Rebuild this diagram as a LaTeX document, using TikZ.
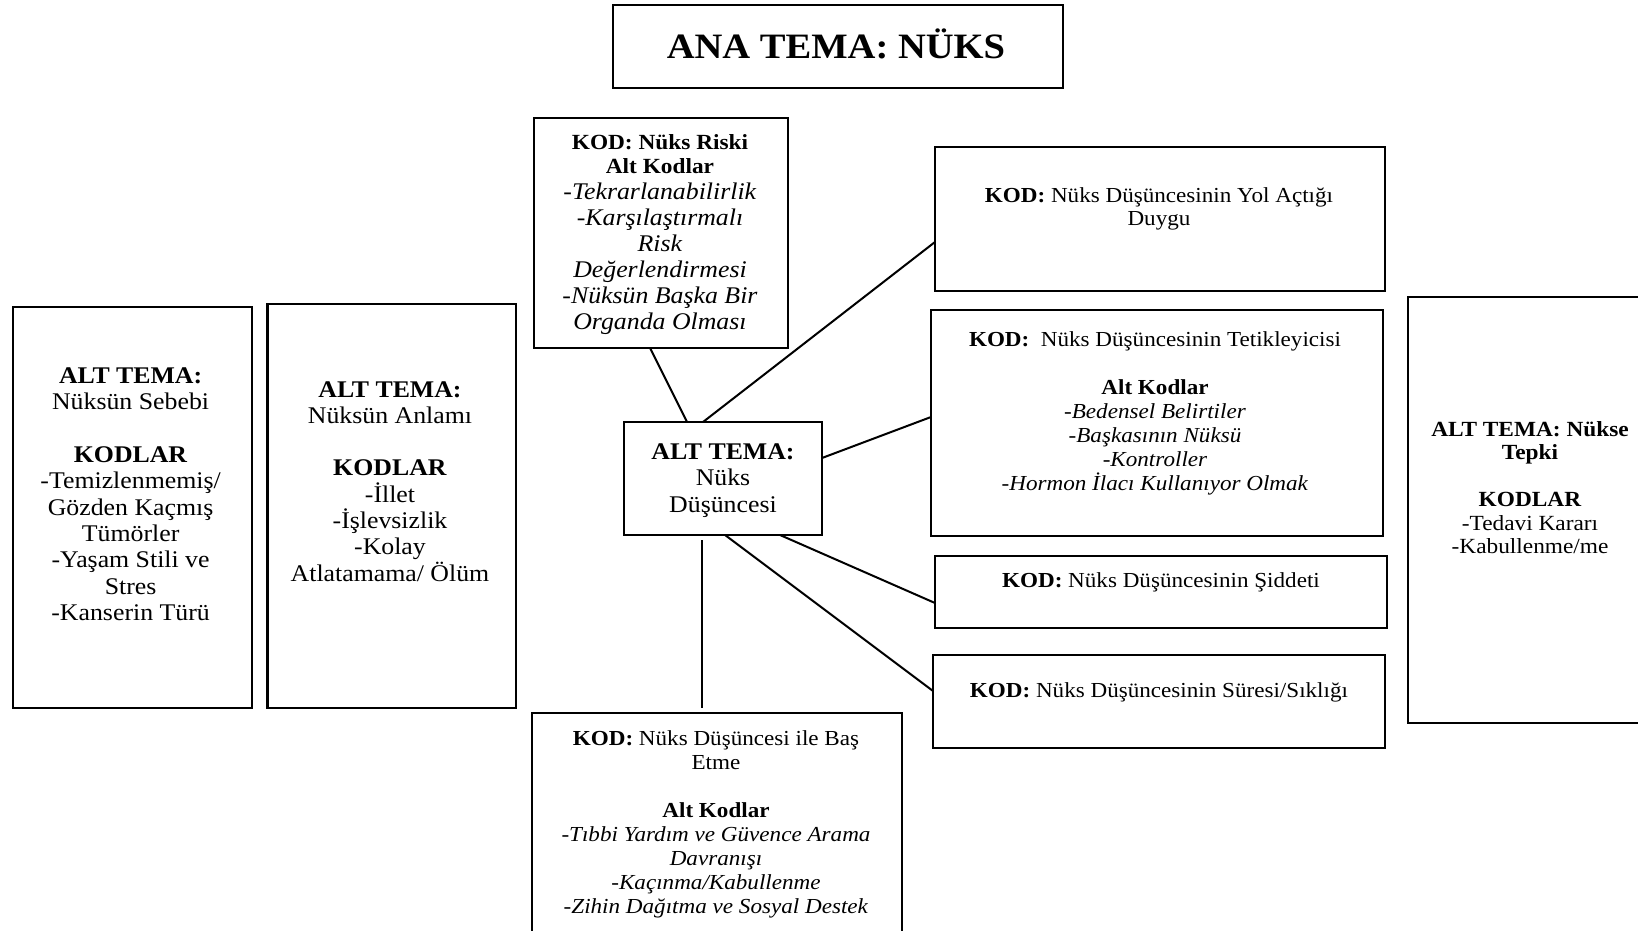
\documentclass[tikz,border=0pt]{standalone}
\usepackage{fontspec}
\setmainfont{Liberation Serif}[FakeStretch=1.08]
\newcommand{\tstr}{\rule{0pt}{22pt}}
\newcommand{\bigf}[1]{\fontsize{23.9}{#1}\selectfont}
\newcommand{\smallf}[1]{\fontsize{21.4}{#1}\selectfont}
\newcommand{\rb}[1]{\textbf{\fontsize{21.6}{26.1}\selectfont #1}}
\begin{document}
\begin{tikzpicture}[x=1pt,y=-1pt,
  box/.style={draw=black, line width=2.3pt, rectangle, inner sep=0pt, outer sep=0pt, fill=none},
  txt/.style={inner sep=0pt, outer sep=0pt, align=center, anchor=north},
  link/.style={draw=black, line width=2pt}]
\path[use as bounding box] (0,0) rectangle (1638,931);
\clip (0,0) rectangle (1638,931);
\fill[white] (0,0) rectangle (1638,931);

% boxes
\node[box, minimum width=450pt, minimum height=83pt] (title) at (838,46.5) {};
\node[box, minimum width=254pt, minimum height=230pt] (riski) at (661,233) {};
\node[box, minimum width=450pt, minimum height=144pt] (yol) at (1160,219) {};
\node[box, minimum width=452pt, minimum height=226pt] (tetik) at (1157,423) {};
\node[box, minimum width=452pt, minimum height=72pt] (siddet) at (1161,592) {};
\node[box, minimum width=452pt, minimum height=93pt] (sure) at (1159,701.5) {};
\node[box, minimum width=252pt, minimum height=426pt] (tepki) at (1534,510) {};
\node[box, minimum width=239pt, minimum height=401pt] (sebep) at (132.5,507.5) {};
\node[box, minimum width=248.6pt, minimum height=404pt] (anlam) at (391.7,506) {};
\node[box, minimum width=198pt, minimum height=113pt] (merkez) at (723,478.5) {};
\node[box, minimum width=370pt, minimum height=237pt] (bas) at (717,831.5) {};

% texts
\node[inner sep=0pt, anchor=base, font=\fontsize{35.7}{40}\selectfont\bfseries] (titletxt) at (836,59) {ANA TEMA: NÜKS};

\node[txt, font=\bigf{26.1}] (riskitxt) at (660,127) {\tstr\rb{KOD: Nüks Riski}\\[-2pt] \rb{Alt Kodlar}\\ \textit{-Tekrarlanabilirlik}\\ \textit{-Karşılaştırmalı}\\ \textit{Risk}\\ \textit{Değerlendirmesi}\\ \textit{-Nüksün Başka Bir}\\ \textit{Organda Olması}};

\node[txt, font=\bigf{26.4}] (sebeptxt) at (130.6,361) {\tstr\textbf{ALT TEMA:}\\ Nüksün Sebebi\\[26.4pt] \textbf{KODLAR}\\ -Temizlenmemiş/\\ Gözden Kaçmış\\ Tümörler\\ -Yaşam Stili ve\\ Stres\\ -Kanserin Türü};

\node[txt, font=\bigf{26.3}] (anlamtxt) at (390,375) {\tstr\textbf{ALT TEMA:}\\ Nüksün Anlamı\\[26.3pt] \textbf{KODLAR}\\ -İllet\\ -İşlevsizlik\\ -Kolay\\ Atlatamama/ Ölüm};

\node[txt, font=\bigf{26.5}] (merkeztxt) at (723,437) {\tstr\textbf{ALT TEMA:}\\ Nüks\\ Düşüncesi};

\node[txt, font=\smallf{23}] (yoltxt) at (1159,180) {\tstr\textbf{KOD:} Nüks Düşüncesinin Yol Açtığı\\ Duygu};

\node[txt, font=\smallf{24}] (tetiktxt) at (1155,324) {\tstr\textbf{KOD:}\ \ Nüks Düşüncesinin Tetikleyicisi\\[24pt] \textbf{Alt Kodlar}\\ \textit{-Bedensel Belirtiler}\\ \textit{-Başkasının Nüksü}\\ \textit{-Kontroller}\\ \textit{-Hormon İlacı Kullanıyor Olmak}};

\node[txt, font=\smallf{24}] (siddettxt) at (1161,565) {\tstr\textbf{KOD:} Nüks Düşüncesinin Şiddeti};

\node[txt, font=\smallf{24}] (suretxt) at (1159,675) {\tstr\textbf{KOD:} Nüks Düşüncesinin Süresi/Sıklığı};

\node[txt, font=\fontsize{21.6}{23.5}\selectfont] (tepkitxt) at (1530,414) {\tstr\textbf{ALT TEMA: Nükse}\\ \textbf{Tepki}\\[23.5pt] \textbf{KODLAR}\\ -Tedavi Kararı\\ -Kabullenme/me};

\node[txt, font=\smallf{24}] (bastxt) at (716,723) {\tstr\textbf{KOD:} Nüks Düşüncesi ile Baş\\ Etme\\[24pt] \textbf{Alt Kodlar}\\ \textit{-Tıbbi Yardım ve Güvence Arama}\\ \textit{Davranışı}\\ \textit{-Kaçınma/Kabullenme}\\ \textit{-Zihin Dağıtma ve Sosyal Destek}};

% connectors
\draw[link] ([xshift=-11pt]riski.south) -- ([xshift=-36pt]merkez.north);
\draw[link] ([xshift=-20pt]merkez.north) -- ([yshift=-23pt]yol.west);
\draw[link] ([yshift=20.5pt]merkez.east) -- ([yshift=6pt]tetik.west);
\draw[link] ([xshift=57pt]merkez.south) -- ([yshift=-11pt]siddet.west);
\draw[link] ([xshift=2pt]merkez.south) -- ([yshift=10.5pt]sure.west);
\draw[link, shorten <=5pt, shorten >=5pt] ([xshift=-21pt]merkez.south) -- ([xshift=-15pt]bas.north);
\end{tikzpicture}
\end{document}
